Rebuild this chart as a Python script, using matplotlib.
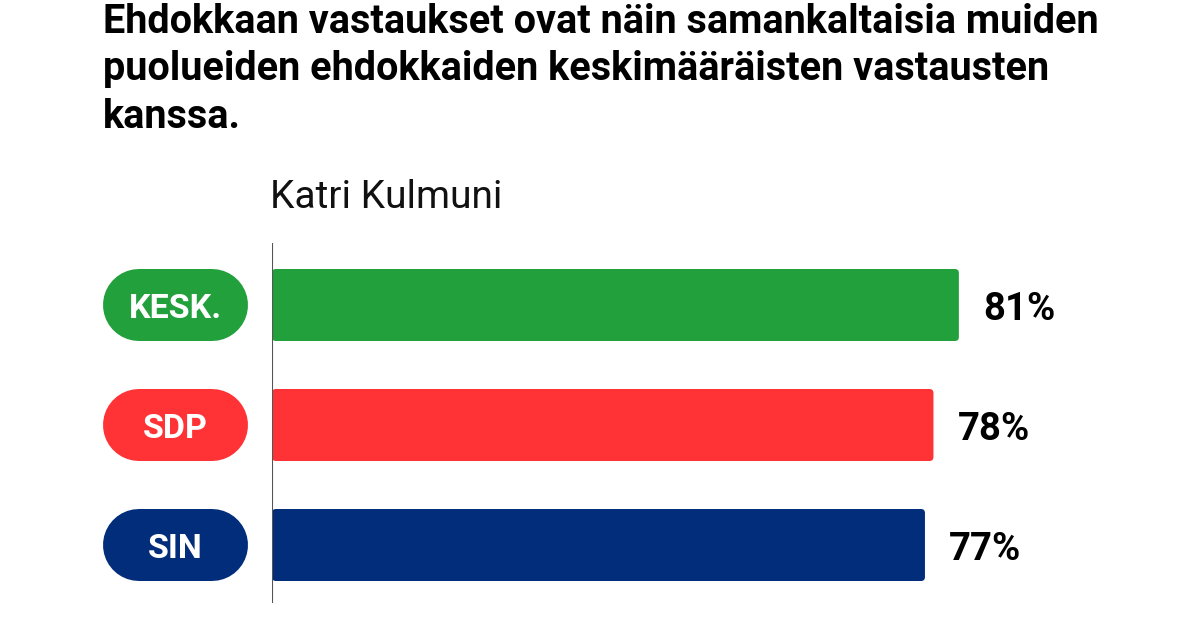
import matplotlib
matplotlib.use("Agg")
import matplotlib.pyplot as plt
from matplotlib.patches import FancyBboxPatch

title_lines = ["Ehdokkaan vastaukset ovat näin samankaltaisia muiden",
               "puolueiden ehdokkaiden keskimääräisten vastausten",
               "kanssa."]
subtitle = "Katri Kulmuni"
parties = ["KESK.", "SDP", "SIN"]
values = [81, 78, 77]
colors = ["#22a03c", "#ff3336", "#012d7b"]

W, H = 1199, 618
fig = plt.figure(figsize=(W / 100, H / 100), dpi=100)
plt.rcParams['font.family'] = ['Roboto', 'DejaVu Sans']

def fx(px):
    return px / W

def fy(py):
    return 1 - py / H

# axes: x pixels 272..1120 (0..100%), y pixels 243..603
ax_left, ax_right, ax_top, ax_bot = 272, 1120, 243, 603
ax = fig.add_axes([fx(ax_left), fy(ax_bot), fx(ax_right - ax_left), (ax_bot - ax_top) / H])
ax.set_xlim(0, 100)
spacing = 120.0
ax.set_ylim((ax_bot - 305) / spacing, -(305 - ax_top) / spacing)
ax.axis('off')

xunit_px = (ax_right - ax_left) / 100.0
bar_h = 72 / spacing
axw = ax_right - ax_left
trans = ax.get_yaxis_transform()
pill_r = 36  # px
pill_lw_pt = 72 * 72 / 100.0

for i, (p, v, c) in enumerate(zip(parties, values, colors)):
    # bar with slightly rounded corners
    r_px = 4
    asp = (1 / spacing) / (1 / xunit_px)
    bar = FancyBboxPatch((0, i - bar_h / 2), v, bar_h,
                         boxstyle=f"round,pad=0,rounding_size={r_px / xunit_px}",
                         mutation_aspect=asp, fc=c, ec='none', lw=0)
    ax.add_patch(bar)
    ax.text(v + 24 / xunit_px, i, f"{v}%", ha='left', va='center_baseline',
            fontsize=27.5, fontweight='bold', color='black')
    # pill label: thick line with round caps
    x0 = (103 + pill_r - ax_left) / axw
    x1 = (248 - pill_r - ax_left) / axw
    ax.plot([x0, x1], [i, i], transform=trans, color=c, lw=pill_lw_pt,
            solid_capstyle='round', clip_on=False)
    ax.text((x0 + x1) / 2, i, p, transform=trans, ha='center', va='center_baseline',
            fontsize=24.5, fontweight='bold', color='white', clip_on=False)

ax.axvline(0, color='#555555', lw=1.5, ymin=0, ymax=1)

for k, line in enumerate(title_lines):
    fig.text(fx(103), fy(33 + 47.5 * k), line, ha='left', va='baseline',
             fontsize=28.5, fontweight='bold', color='black')

fig.text(fx(270), fy(208), subtitle, ha='left', va='baseline',
         fontsize=28, color='#111111')

fig.savefig("out.png", dpi=100)
